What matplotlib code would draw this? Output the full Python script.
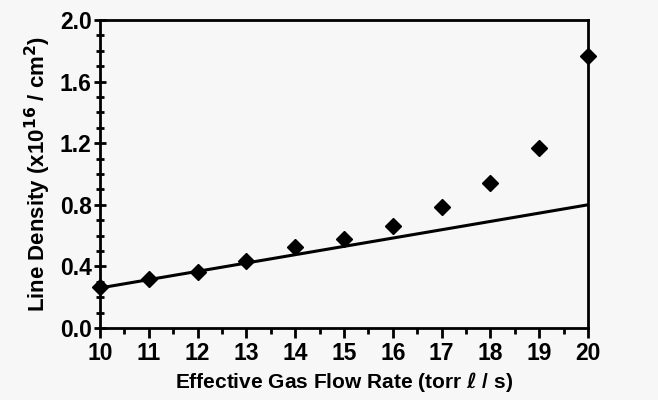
import matplotlib.pyplot as plt
from matplotlib.ticker import MultipleLocator
import numpy as np

flow = [10, 11, 12, 13, 14, 15, 16, 17, 18, 19, 20]
density = [0.266, 0.318, 0.365, 0.437, 0.528, 0.58, 0.663, 0.784, 0.94, 1.167, 1.766]
fit = [0.26, 0.314, 0.368, 0.422, 0.476, 0.53, 0.584, 0.638, 0.692, 0.746, 0.80]

plt.rcParams['font.family'] = ['Liberation Sans Narrow', 'Liberation Sans', 'DejaVu Sans']
plt.rcParams['font.weight'] = 'bold'

fig = plt.figure(figsize=(6.58, 4.0), dpi=100, facecolor='#f7f7f7')
ax = fig.add_axes([100 / 658, 72 / 400, 488 / 658, 308 / 400])
ax.set_facecolor('#f7f7f7')

ax.plot(flow, fit, color='black', lw=2.2)
ax.plot(flow, density, 'kD', ms=8.5, clip_on=False, zorder=3)

ax.set_xlim(10, 20)
ax.set_ylim(0, 2.0)
ax.set_xticks(np.arange(10, 21, 1))
ax.xaxis.set_minor_locator(MultipleLocator(0.5))
ax.set_yticks(np.arange(0, 2.01, 0.4))
ax.yaxis.set_minor_locator(MultipleLocator(0.1))
ax.set_yticklabels(['%.1f' % v for v in np.arange(0, 2.01, 0.4)])

ax.tick_params(axis='x', which='major', direction='out', length=7, width=2, labelsize=16.5, pad=3)
ax.tick_params(axis='x', which='minor', direction='out', length=4, width=2)
ax.tick_params(axis='y', which='major', direction='inout', length=8, width=2, labelsize=16.5, pad=2)
ax.tick_params(axis='y', which='minor', direction='inout', length=6, width=2)
for s in ax.spines.values():
    s.set_linewidth(2)

ax.set_xlabel('Effective Gas Flow Rate (torr $\\ell$ / s)', fontsize=15, fontweight='bold', labelpad=4)
ax.set_ylabel('Line Density (x10$^{16}$ / cm$^2$)', fontsize=16, fontweight='bold', labelpad=5)

fig.savefig('out.png', dpi=100, facecolor=fig.get_facecolor())
